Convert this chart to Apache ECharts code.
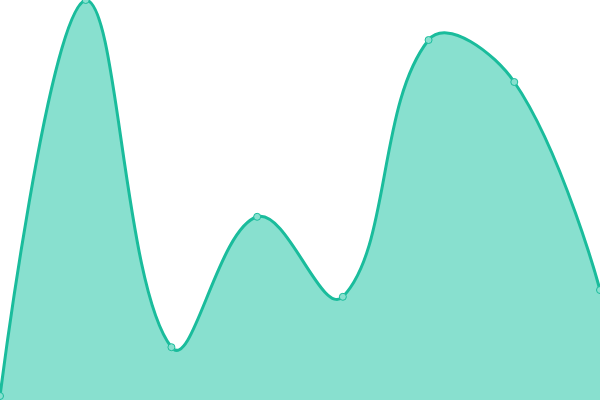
<!DOCTYPE html>
<html>
<head>
<meta charset="utf-8">
<script src="https://cdn.jsdelivr.net/npm/echarts@6/dist/echarts.min.js"></script>
<style>html,body{margin:0;padding:0;background:#fff}#c{width:600px;height:400px}</style>
</head>
<body>
<div id="c"></div>
<script>
var categories = ['A', 'B', 'C', 'D', 'E', 'F', 'G', 'H'];
var values = [10, 1000, 132, 458, 258, 900, 795, 275];

var LINE = '#1abc9c';
var FILL = '#88e0cf';
var TENSION = 0.4;

function buildPaths(api) {
  var pts = values.map(function (v, i) { return api.coord([i, v]); });
  var bottom = api.coord([0, 0])[1];
  var top = api.coord([0, 1000])[1];
  var left = pts[0][0], right = pts[pts.length - 1][0];
  function clamp(p) {
    return [Math.min(Math.max(p[0], left), right), Math.min(Math.max(p[1], top), bottom)];
  }
  var cps = [];
  for (var i = 0; i < pts.length; i++) {
    if (i === 0 || i === pts.length - 1) { cps.push(pts[i].slice()); continue; }
    var p = pts[i], a = pts[i - 1], b = pts[i + 1];
    var vx = (b[0] - a[0]) * TENSION, vy = (b[1] - a[1]) * TENSION;
    var d0 = Math.hypot(p[0] - a[0], p[1] - a[1]);
    var d1 = Math.hypot(p[0] - b[0], p[1] - b[1]);
    var s = d0 + d1; if (s) { d0 /= s; d1 /= s; }
    cps.push(clamp([p[0] - vx * d0, p[1] - vy * d0]));
    cps.push(clamp([p[0] + vx * d1, p[1] + vy * d1]));
  }
  var d = 'M' + pts[0][0] + ' ' + pts[0][1];
  for (var j = 0; j < pts.length - 1; j++) {
    var c0 = cps[2 * j], c1 = cps[2 * j + 1], e = pts[j + 1];
    d += ' C' + c0[0] + ' ' + c0[1] + ' ' + c1[0] + ' ' + c1[1] + ' ' + e[0] + ' ' + e[1];
  }
  var area = d + ' L' + right + ' ' + bottom + ' L' + left + ' ' + bottom + ' Z';
  return { line: d, area: area };
}

var chart = echarts.init(document.getElementById('c'));
chart.setOption({
  animation: false,
  grid: { left: 0, right: 0, top: 0, bottom: 0 },
  xAxis: { type: 'category', data: categories, boundaryGap: false, show: false },
  yAxis: { type: 'value', min: 0, max: 1000, show: false },
  series: [{
    type: 'custom',
    coordinateSystem: 'cartesian2d',
    data: values,
    clip: true,
    renderItem: function (params, api) {
      if (params.dataIndex !== 0) return null;
      var p = buildPaths(api);
      return {
        type: 'group',
        children: [
          { type: 'path', shape: { pathData: p.area }, style: { fill: FILL, stroke: null } },
          { type: 'path', shape: { pathData: p.line }, style: { fill: null, stroke: LINE, lineWidth: 3 } }
        ]
      };
    }
  }, {
    type: 'line',
    data: values,
    symbol: 'circle',
    symbolSize: 7,
    z: 5,
    lineStyle: { width: 0, opacity: 0 },
    itemStyle: { color: FILL, borderColor: LINE, borderWidth: 1 }
  }]
});
</script>
</body>
</html>
